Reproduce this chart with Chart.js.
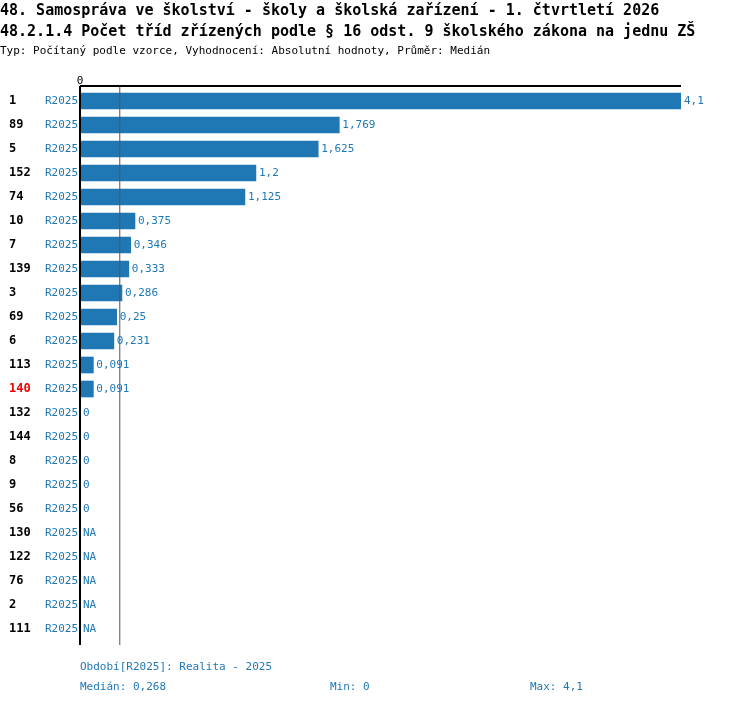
<!DOCTYPE html>
<html><head><meta charset="utf-8">
<script src="https://cdn.jsdelivr.net/npm/chart.js@4"></script>
<style>html,body{margin:0;padding:0;background:#fff}canvas{display:block}</style>
</head><body>
<div style="width:750px;height:704px;position:relative"><canvas id="c"></canvas></div>
<script>
const categories=["1","89","5","152","74","10","7","139","3","69","6","113","140","132","144","8","9","56","130","122","76","2","111"];
const values=[4.1,1.769,1.625,1.2,1.125,0.375,0.346,0.333,0.286,0.25,0.231,0.091,0.091,0,0,0,0,0,null,null,null,null,null];
const seriesName="R2025";
const highlight="140";
const median=0.268, minV=0, maxV=4.1;
const title1="48. Samospráva ve školství - školy a školská zařízení - 1. čtvrtletí 2026";
const title2="48.2.1.4 Počet tříd zřízených podle § 16 odst. 9 školského zákona na jednu ZŠ";
const subtitle="Typ: Počítaný podle vzorce, Vyhodnocení: Absolutní hodnoty, Průměr: Medián";
const fmt=v=>v===null?"NA":String(v).replace(".",",");
const mono='"DejaVu Sans Mono", monospace';
const blue="#1f77b4";
const deco={id:"deco",afterDraw(ch){
 const c=ch.ctx,a=ch.chartArea,x=ch.scales.x,y=ch.scales.y;
 c.save();
 c.fillStyle="#000";c.textBaseline="alphabetic";c.textAlign="left";
 c.font="bold 15px "+mono;c.fillText(title1,0,15);c.fillText(title2,0,36);
 c.font="11px "+mono;c.fillText(subtitle,0,54);
 c.textAlign="center";c.fillText("0",x.getPixelForValue(0),84);
 // median line
 const mx=x.getPixelForValue(median);
 c.strokeStyle="#555";c.lineWidth=1;c.beginPath();c.moveTo(mx+0.5,a.top-3);c.lineTo(mx+0.5,a.bottom+4);c.stroke();
 // axes
 c.strokeStyle="#000";c.lineWidth=2;c.beginPath();c.moveTo(a.left,a.top-3);c.lineTo(a.right,a.top-3);c.moveTo(a.left,a.top-3);c.lineTo(a.left,a.bottom+4);c.stroke();
 c.textBaseline="middle";
 categories.forEach((cat,i)=>{
  const py=y.getPixelForValue(i);
  c.textAlign="left";c.font="bold 12px "+mono;c.fillStyle=cat===highlight?"#e00":"#000";c.fillText(cat,9,py);
  c.font="11px "+mono;c.fillStyle=blue;c.textAlign="right";c.fillText(seriesName,78,py);
  c.textAlign="left";const v=values[i];c.fillText(fmt(v),x.getPixelForValue(v||0)+3,py);
 });
 c.textBaseline="alphabetic";c.font="11px "+mono;c.fillStyle=blue;
 c.fillText("Období["+seriesName+"]: Realita - 2025",80,670);
 c.fillText("Medián: "+fmt(median),80,690);
 c.fillText("Min: "+fmt(minV),330,690);
 c.fillText("Max: "+fmt(maxV),530,690);
 c.restore();
}};
new Chart(document.getElementById("c"),{type:"bar",
 data:{labels:categories,datasets:[{data:values,backgroundColor:blue,barThickness:16}]},
 options:{indexAxis:"y",responsive:true,maintainAspectRatio:false,animation:false,
  layout:{padding:{left:80,right:69,top:89,bottom:63}},
  plugins:{legend:{display:false},tooltip:{enabled:false}},
  scales:{x:{display:false,min:0,max:4.1},y:{display:false}}},
 plugins:[deco]});
</script></body></html>
